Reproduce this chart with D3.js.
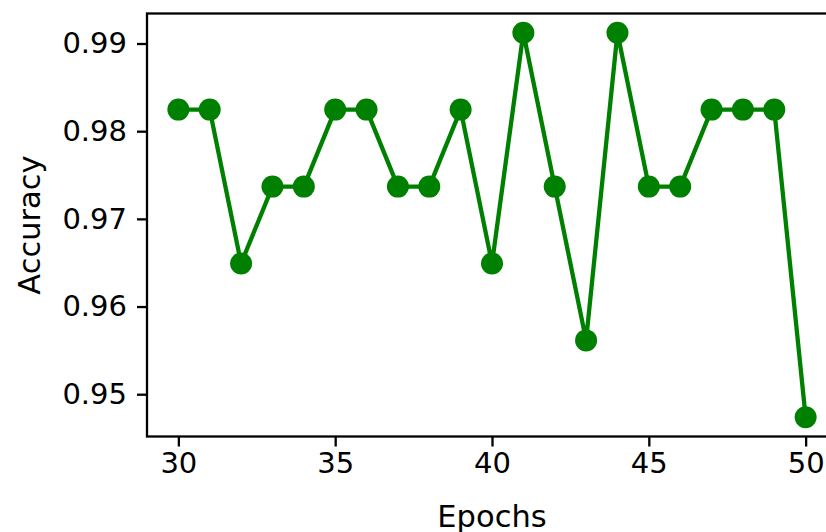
<!DOCTYPE html>
<html>
<head>
<meta charset="utf-8">
<script src="https://cdn.jsdelivr.net/npm/d3@7"></script>
<style>
  html, body { margin: 0; padding: 0; background: #fff; }
  svg { display: block; }
  text { font-family: "DejaVu Sans", sans-serif; fill: #000; }
</style>
</head>
<body>
<svg id="chart" width="826" height="532"></svg>
<script>
// Validation accuracy per training epoch
const epochs = [30, 31, 32, 33, 34, 35, 36, 37, 38, 39, 40, 41, 42, 43, 44, 45, 46, 47, 48, 49, 50];
const accuracy = [
  0.98246, 0.98246, 0.96491, 0.97368, 0.97368, 0.98246, 0.98246, 0.97368, 0.97368, 0.98246,
  0.96491, 0.99123, 0.97368, 0.95614, 0.99123, 0.97368, 0.97368, 0.98246, 0.98246, 0.98246,
  0.94737
];
const xTicks = [30, 35, 40, 45, 50];
const yTicks = [0.95, 0.96, 0.97, 0.98, 0.99];

const svg = d3.select("#chart");
const plotLeft = 147, plotRight = 837, plotTop = 13.5, plotBottom = 436.5;
const tickFont = 29;
const labelFont = 30.5;
const lineColor = "#008000";

// 5% margins around the data range on both axes
const xMin = d3.min(epochs), xMax = d3.max(epochs);
const xPad = (xMax - xMin) * 0.05;
const yMin = d3.min(accuracy), yMax = d3.max(accuracy);
const yPad = (yMax - yMin) * 0.05;

const x = d3.scaleLinear().domain([xMin - xPad, xMax + xPad]).range([plotLeft, plotRight]);
const y = d3.scaleLinear().domain([yMin - yPad, yMax + yPad]).range([plotBottom, plotTop]);

// Axes
const xAxis = d3.axisBottom(x).tickValues(xTicks).tickFormat(d3.format("d"))
  .tickSizeInner(10).tickSizeOuter(0).tickPadding(6);
const yAxis = d3.axisLeft(y).tickValues(yTicks).tickFormat(d3.format(".2f"))
  .tickSizeInner(10).tickSizeOuter(0).tickPadding(10);

const gx = svg.append("g").attr("transform", `translate(0,${plotBottom})`).call(xAxis);
const gy = svg.append("g").attr("transform", `translate(${plotLeft},0)`).call(yAxis);

[gx, gy].forEach(g => {
  g.selectAll(".domain").remove();
  g.selectAll(".tick line").attr("stroke", "#000").attr("stroke-width", 2.3);
  g.selectAll(".tick text").style("font-size", tickFont + "px").style("font-family", "DejaVu Sans");
});

// Frame (spines)
svg.append("rect")
  .attr("x", plotLeft).attr("y", plotTop)
  .attr("width", plotRight - plotLeft).attr("height", plotBottom - plotTop)
  .attr("fill", "none").attr("stroke", "#000").attr("stroke-width", 2.3);

// Line and markers
const line = d3.line().x((d, i) => x(epochs[i])).y(d => y(d));
svg.append("path")
  .datum(accuracy)
  .attr("d", line)
  .attr("fill", "none")
  .attr("stroke", lineColor)
  .attr("stroke-width", 4.3)
  .attr("stroke-linejoin", "round");

svg.append("g").selectAll("circle")
  .data(accuracy)
  .join("circle")
  .attr("cx", (d, i) => x(epochs[i]))
  .attr("cy", d => y(d))
  .attr("r", 11)
  .attr("fill", lineColor);

// Axis labels
svg.append("text")
  .attr("x", (plotLeft + plotRight) / 2)
  .attr("y", 527)
  .attr("text-anchor", "middle")
  .style("font-size", labelFont + "px")
  .text("Epochs");

svg.append("text")
  .attr("transform", `translate(40,${(plotTop + plotBottom) / 2}) rotate(-90)`)
  .attr("text-anchor", "middle")
  .style("font-size", labelFont + "px")
  .text("Accuracy");
</script>
</body>
</html>
